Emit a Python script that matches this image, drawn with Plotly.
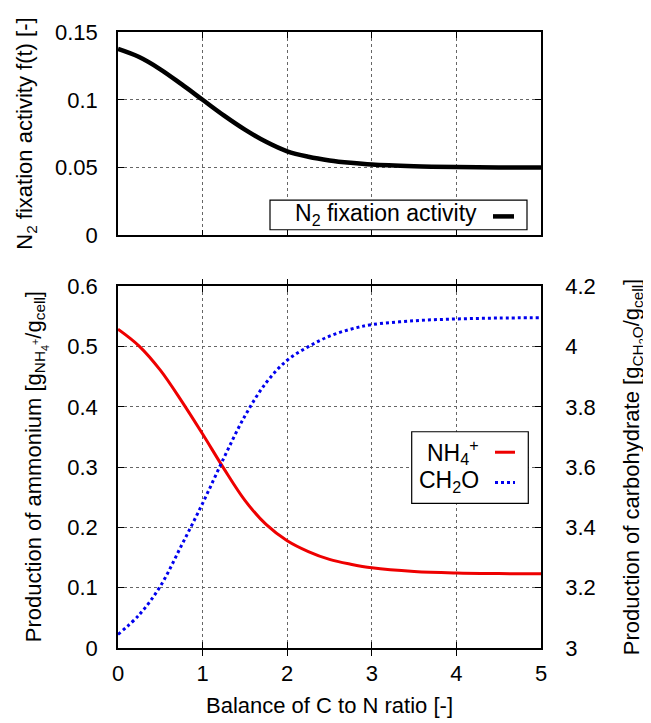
import plotly.graph_objects as go

# ---- data ----
x_ratio = [0, 0.25, 0.5, 0.75, 1.0, 1.25, 1.5, 1.75, 2.0, 2.25, 2.5, 2.75, 3.0, 3.5, 4.0, 4.5, 5.0]
n2_activity = [0.1375, 0.1315, 0.1225, 0.1115, 0.100, 0.0885, 0.0780, 0.0690, 0.0620, 0.0580,
               0.0553, 0.0535, 0.0522, 0.0510, 0.0504, 0.0501, 0.0500]
nh4_prod = [0.529, 0.501, 0.461, 0.410, 0.355, 0.298, 0.245, 0.205, 0.178, 0.160,
            0.147, 0.139, 0.133, 0.127, 0.1245, 0.1235, 0.123]
ch2o_prod = [3.045, 3.11, 3.205, 3.34, 3.48, 3.63, 3.77, 3.88, 3.955, 4.00,
             4.035, 4.058, 4.073, 4.086, 4.092, 4.095, 4.096]

x_ticks = [0, 1, 2, 3, 4, 5]
x_ticktext = ["0", "1", "2", "3", "4", "5"]
top_y_ticks = [0, 0.05, 0.1, 0.15]
top_y_ticktext = ["0", "0.05", "0.1", "0.15"]
left_y_ticks = [0, 0.1, 0.2, 0.3, 0.4, 0.5, 0.6]
left_y_ticktext = ["0", "0.1", "0.2", "0.3", "0.4", "0.5", "0.6"]
right_y_ticks = [3, 3.2, 3.4, 3.6, 3.8, 4.0, 4.2]
right_y_ticktext = ["3", "3.2", "3.4", "3.6", "3.8", "4", "4.2"]

# ---- geometry (page body has an 8px margin) ----
OFF = 8
W, H = 651 - OFF, 723 - OFF
ML, MR, MT, MB = 118 - OFF, 110, 25 - OFF, 75
PW, PH = W - ML - MR, H - MT - MB


def px(xp):  # reference-pixel x -> paper
    return (xp - 118) / PW


def py(yp):  # reference-pixel y -> paper
    return (648 - yp) / PH


FONT = "Liberation Sans, Arial, Helvetica, sans-serif"
FS = 22
LFS = 23

fig = go.Figure()
fig.add_trace(go.Scatter(x=x_ratio, y=n2_activity, mode="lines", line=dict(color="black", width=4.5, shape="spline"),
                         xaxis="x", yaxis="y", showlegend=False))
fig.add_trace(go.Scatter(x=x_ratio, y=nh4_prod, mode="lines", line=dict(color="#ee0000", width=3, shape="spline"),
                         xaxis="x2", yaxis="y2", showlegend=False))
fig.add_trace(go.Scatter(x=x_ratio, y=ch2o_prod, mode="lines",
                         line=dict(color="#0000ee", width=3, dash="dot", shape="spline"),
                         xaxis="x2", yaxis="y3", showlegend=False))

common_x = dict(range=[0, 5], tickvals=x_ticks, ticktext=x_ticktext, ticks="inside", ticklen=6,
                tickcolor="black", showline=True, linecolor="black", linewidth=1.5, mirror="allticks",
                showgrid=True, gridcolor="#666", griddash="dot", gridwidth=1, zeroline=False,
                tickfont=dict(family=FONT, size=FS, color="black"))
common_y = dict(ticks="inside", ticklen=6, tickcolor="black", showline=True, linecolor="black", linewidth=1.5,
                showgrid=True, gridcolor="#666", griddash="dot", gridwidth=1, zeroline=False,
                tickfont=dict(family=FONT, size=FS, color="black"), ticklabelstandoff=14)

top_dom = [py(230.7), 1.0]
bot_dom = [0.0, py(282.3)]

fig.update_layout(
    width=W, height=H, margin=dict(l=ML, r=MR, t=MT, b=MB),
    paper_bgcolor="white", plot_bgcolor="white",
    font=dict(family=FONT, size=FS, color="black"),
    showlegend=False,
    xaxis=dict(common_x, anchor="y", domain=[0, 1], showticklabels=False),
    yaxis=dict(common_y, anchor="x", domain=top_dom, range=[0, 0.15], tickvals=top_y_ticks,
               ticktext=top_y_ticktext, mirror="allticks"),
    xaxis2=dict(common_x, anchor="y2", domain=[0, 1], ticklabelstandoff=5),
    yaxis2=dict(common_y, anchor="x2", domain=bot_dom, range=[0, 0.6], tickvals=left_y_ticks,
                ticktext=left_y_ticktext, mirror=True),
    yaxis3=dict(common_y, anchor="x2", overlaying="y2", side="right", range=[3, 4.2], tickvals=right_y_ticks,
                ticktext=right_y_ticktext, showgrid=False, ticklabelstandoff=18),
)

# axis titles
ann = []
ann.append(dict(text="N<sub>2</sub> fixation activity f(t) [-]", x=px(26), y=(top_dom[0] + top_dom[1]) / 2,
                xref="paper", yref="paper", textangle=-90, showarrow=False, xanchor="center", yanchor="middle",
                font=dict(family=FONT, size=FS)))
ann.append(dict(text="Production of ammonium [g<sub>NH<sub>4</sub><sup>+</sup></sub>/g<sub>cell</sub>]",
                x=px(36), y=(bot_dom[0] + bot_dom[1]) / 2, xref="paper", yref="paper", textangle=-90,
                showarrow=False, xanchor="center", yanchor="middle", font=dict(family=FONT, size=FS)))
ann.append(dict(text="Production of carbohydrate [g<sub>CH<sub>2</sub>O</sub>/g<sub>cell</sub>]",
                x=px(634), y=(bot_dom[0] + bot_dom[1]) / 2, xref="paper", yref="paper", textangle=-90,
                showarrow=False, xanchor="center", yanchor="middle", font=dict(family=FONT, size=FS)))
ann.append(dict(text="Balance of C to N ratio [-]", x=0.5, y=py(706), xref="paper", yref="paper",
                showarrow=False, xanchor="center", yanchor="middle", font=dict(family=FONT, size=FS)))

# legend texts
ann.append(dict(text="N<sub>2</sub> fixation activity", x=px(479), y=py(210), xref="paper", yref="paper",
                showarrow=False, xanchor="right", yanchor="middle", font=dict(family=FONT, size=LFS)))
ann.append(dict(text="NH<sub>4</sub><sup>+</sup>", x=px(481), y=py(450), xref="paper", yref="paper",
                showarrow=False, xanchor="right", yanchor="middle", font=dict(family=FONT, size=LFS)))
ann.append(dict(text="CH<sub>2</sub>O", x=px(481), y=py(480), xref="paper", yref="paper",
                showarrow=False, xanchor="right", yanchor="middle", font=dict(family=FONT, size=LFS)))

shapes = []
# legend boxes
shapes.append(dict(type="rect", xref="paper", yref="paper", x0=px(270), x1=px(527), y0=py(225), y1=py(195),
                   line=dict(color="black", width=1.2), fillcolor="white", layer="above"))
shapes.append(dict(type="rect", xref="paper", yref="paper", x0=px(411.7), x1=px(528.3), y0=py(501.7), y1=py(429.3),
                   line=dict(color="black", width=1.2), fillcolor="white", layer="above"))
# legend samples
shapes.append(dict(type="line", xref="paper", yref="paper", x0=px(493), x1=px(514), y0=py(211.5), y1=py(211.5),
                   line=dict(color="black", width=4.5), layer="above"))
shapes.append(dict(type="line", xref="paper", yref="paper", x0=px(495), x1=px(515), y0=py(450), y1=py(450),
                   line=dict(color="#ee0000", width=3), layer="above"))
shapes.append(dict(type="line", xref="paper", yref="paper", x0=px(495), x1=px(515), y0=py(480.5), y1=py(480.5),
                   line=dict(color="#0000ee", width=3, dash="dot"), layer="above"))

fig.update_layout(annotations=ann, shapes=shapes)
fig.write_html("out.html")
